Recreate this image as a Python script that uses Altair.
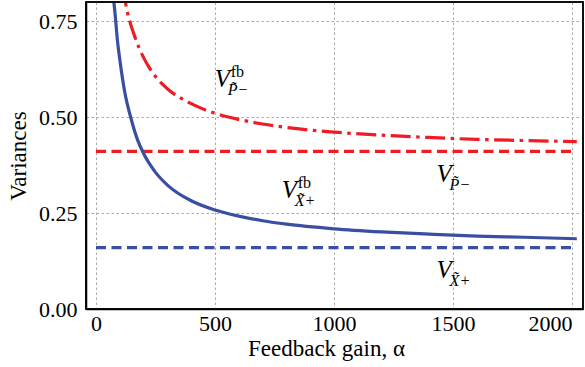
import altair as alt
import pandas as pd

# --- data ---
alpha_blue_fb = [70, 80, 90, 100, 120, 150, 175, 200, 250, 300, 400, 500, 600, 700,
                 800, 1000, 1200, 1400, 1600, 1800, 2020]
v_blue_fb = [0.83, 0.77, 0.70, 0.65, 0.568, 0.49, 0.44, 0.405, 0.356, 0.323, 0.282, 0.258,
             0.242, 0.230, 0.221, 0.209, 0.201, 0.195, 0.190, 0.187, 0.183]

alpha_red_fb = [115, 125, 140, 160, 180, 200, 250, 300, 400, 500, 600, 700, 800,
                1000, 1200, 1400, 1600, 1800, 2020]
v_red_fb = [0.84, 0.795, 0.754, 0.715, 0.682, 0.655, 0.606, 0.574, 0.535, 0.510, 0.494,
            0.482, 0.473, 0.461, 0.453, 0.447, 0.442, 0.439, 0.436]

alpha_const = [0, 2000]
v_red_const = [0.411, 0.411]
v_blue_const = [0.160, 0.160]

x_ticks = [0, 500, 1000, 1500, 2000]
y_ticks = [0.0, 0.25, 0.5, 0.75]

# annotation pieces
lab_x = [499, 780, 1431, 1431]
lab_y = [0.578, 0.289, 0.331, 0.081]
lab_main = ["V", "V", "V", "V"]
lab_sub = ["P\u0303\u2212", "X\u0303+", "P\u0303\u2212", "X\u0303+"]
sup_x = [499, 780]
sup_y = [0.578, 0.289]
sup_txt = ["fb", "fb"]

BLUE = "#3a4fa3"
RED = "#ee1d25"
FONT = "'Liberation Serif', 'Times New Roman', 'DejaVu Serif', serif"

xs = alt.Scale(domain=[-42, 2046], nice=False, zero=False)
ys = alt.Scale(domain=[0, 0.8], nice=False, zero=False)

xax = alt.Axis(values=x_ticks, format="d", title="Feedback gain, \u03b1",
               labelPadding=4, titleY=46, titleX=240,
               labelAlign={"condition": {"test": "datum.value >= 2000", "value": "right"},
                           "value": "center"},
               labelFont=FONT, titleFont=FONT)
yax = alt.Axis(values=y_ticks, format=".2f", title="Variances", labelPadding=9,
               titleAngle=-90, titleX=-61, titleY=153.5,
               labelFont=FONT, titleFont=FONT)

X = alt.X("a:Q", scale=xs, axis=xax)
Y = alt.Y("v:Q", scale=ys, axis=yax)


def line(xv, yv, color, dash=None):
    df = pd.DataFrame({"a": xv, "v": yv})
    kw = dict(color=color, strokeWidth=3.2, clip=True, interpolate="monotone")
    if dash:
        kw["strokeDash"] = dash
    return alt.Chart(df).mark_line(**kw).encode(x=X, y=Y)


red_const = line(alpha_const, v_red_const, RED, [10, 5.5])
red_fb = line(alpha_red_fb, v_red_fb, RED, [20, 5.5, 3.5, 5.5])
blue_const = line(alpha_const, v_blue_const, BLUE, [10, 5.5])
blue_fb = line(alpha_blue_fb, v_blue_fb, BLUE)

lab_df = pd.DataFrame({"a": lab_x, "v": lab_y, "m": lab_main, "s": lab_sub})
sup_df = pd.DataFrame({"a": sup_x, "v": sup_y, "t": sup_txt})

t_main = alt.Chart(lab_df).mark_text(font=FONT, fontStyle="italic", fontSize=25,
                                     align="left", baseline="alphabetic",
                                     color="black").encode(x=X, y=Y, text="m:N")
t_sub = alt.Chart(lab_df).mark_text(font=FONT, fontStyle="italic", fontSize=16,
                                    align="left", baseline="alphabetic", dx=13, dy=8,
                                    color="black").encode(x=X, y=Y, text="s:N")
t_sup = alt.Chart(sup_df).mark_text(font=FONT, fontSize=16, align="left",
                                    baseline="alphabetic", dx=16, dy=-10,
                                    color="black").encode(x=X, y=Y, text="t:N")

# black frame around the plot area
frame = alt.Chart(pd.DataFrame({"k": [0]})).mark_rect(
    filled=False, stroke="#000000", strokeWidth=1.5
).encode(x=alt.value(0), x2=alt.value(497), y=alt.value(0), y2=alt.value(307))

chart = alt.layer(red_const, red_fb, blue_const, blue_fb, t_main, t_sub, t_sup,
                  frame).properties(
    width=497, height=307,
    padding={"left": 86, "top": 2, "right": 2, "bottom": 58},
    autosize=alt.AutoSizeParams(type="none"),
    background="white",
).configure(
    font=FONT
).configure_view(
    stroke="#000000", strokeWidth=1.5, strokeOpacity=1
).configure_axis(
    grid=True, ticks=False, domain=True, domainColor="#000000", domainWidth=1.5,
    labelFont=FONT, labelFontSize=22, labelColor="black",
    titleFont=FONT, titleFontSize=23, titleFontWeight="normal", titleColor="black",
    titleBaseline="alphabetic", titleAlign="center",
    gridColor="#aaaaaa", gridDash=[2.5, 2.5], gridWidth=1, gridOpacity=1,
)

chart.save("out.html", embed_options={"renderer": "svg", "actions": False})
